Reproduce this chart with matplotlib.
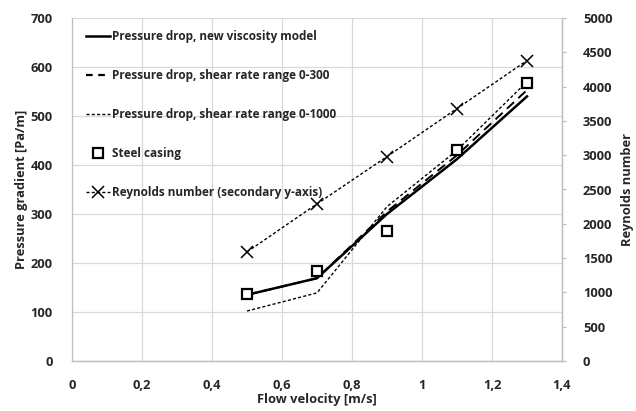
import matplotlib.pyplot as plt
import matplotlib.lines as mlines

# ── data ─────────────────────────────────────────────────────────────────────
velocity = [0.5, 0.7, 0.9, 1.1, 1.3]
dp_new_model = [135, 169, 300, 412, 540]
dp_shear_300 = [135, 169, 305, 420, 553]
dp_shear_1000 = [102, 139, 315, 430, 570]
steel_casing = [136, 184, 265, 430, 567]
reynolds = [1590, 2290, 2980, 3680, 4380]

x_ticks = [0, 0.2, 0.4, 0.6, 0.8, 1.0, 1.2, 1.4]
x_ticklabels = ["0", "0,2", "0,4", "0,6", "0,8", "1", "1,2", "1,4"]

plt.rcParams["font.family"] = ["Open Sans", "DejaVu Sans"]
plt.rcParams["font.weight"] = "bold"

TXT = "#262626"
FS = 9.3

fig = plt.figure(figsize=(6.36, 4.11), dpi=100, facecolor="white")
ax = fig.add_axes([72 / 636, 1 - 361 / 411, 490 / 636, 343 / 411])
ax_r = ax.twinx()

grid_col = "#d9d9d9"
ax.grid(True, color=grid_col, linewidth=0.9, zorder=0)
ax.set_axisbelow(True)

ax.plot(velocity, dp_new_model, color="black", linewidth=1.8, zorder=4)
ax.plot(velocity, dp_shear_300, color="black", linewidth=1.4,
        dashes=(5, 3), zorder=4)
ax.plot(velocity, dp_shear_1000, color="black", linewidth=1.0,
        dashes=(2.2, 1.6), zorder=4)
ax.plot(velocity, steel_casing, linestyle="none", marker="s", markersize=7,
        markerfacecolor="white", markeredgecolor="black", markeredgewidth=1.6,
        zorder=5)
ax_r.plot(velocity, reynolds, color="black", linewidth=1.0, dashes=(2.2, 1.6),
          marker="x", markersize=8, markeredgewidth=1.1)

ax.set_xlim(0, 1.4)
ax.set_ylim(0, 700)
ax_r.set_ylim(0, 5000)
ax.set_xticks(x_ticks)
ax.set_xticklabels(x_ticklabels)
ax.set_yticks(range(0, 701, 100))
ax_r.set_yticks(range(0, 5001, 500))

for a in (ax, ax_r):
    for s in a.spines.values():
        s.set_color("#bfbfbf")
        s.set_linewidth(0.9)
    a.spines["top"].set_visible(False)
ax_r.spines["left"].set_visible(False)

ax.tick_params(axis="both", length=0, labelsize=FS, colors=TXT)
ax.tick_params(axis="x", pad=13)
ax.tick_params(axis="y", pad=14)
ax_r.tick_params(axis="y", length=3, width=0.9, color="#bfbfbf",
                 labelsize=FS, labelcolor=TXT, pad=12)

ax.set_xlabel("Flow velocity [m/s]", fontsize=FS, fontweight="bold",
              color=TXT, labelpad=1)
ax.set_ylabel("Pressure gradient [Pa/m]", fontsize=FS, fontweight="bold",
              color=TXT, labelpad=2)
ax_r.set_ylabel("Reynolds number", fontsize=FS, fontweight="bold",
                color=TXT, labelpad=6)

handles = [
    mlines.Line2D([], [], color="black", linewidth=1.8,
                  label="Pressure drop, new viscosity model"),
    mlines.Line2D([], [], color="black", linewidth=1.6, dashes=(3, 2.5),
                  label="Pressure drop, shear rate range 0-300"),
    mlines.Line2D([], [], color="black", linewidth=1.0, dashes=(2.2, 1.6),
                  label="Pressure drop, shear rate range 0-1000"),
    mlines.Line2D([], [], linestyle="none", marker="s", markersize=7,
                  markerfacecolor="white", markeredgecolor="black",
                  markeredgewidth=1.6, label="Steel casing"),
    mlines.Line2D([], [], color="black", linewidth=1.0, dashes=(2.2, 1.6),
                  marker="x", markersize=8, markeredgewidth=1.1,
                  label="Reynolds number (secondary y-axis)"),
]
leg = ax_r.legend(handles=handles, loc="upper left",
                  bbox_to_anchor=(0.01, 0.993), frameon=False,
                  fontsize=8.5, labelspacing=2.2, handlelength=2.0,
                  handletextpad=0.15, borderpad=0.3)
for t in leg.get_texts():
    t.set_color(TXT)
    t.set_fontweight("bold")

fig.savefig("out.png", dpi=100, facecolor="white")
